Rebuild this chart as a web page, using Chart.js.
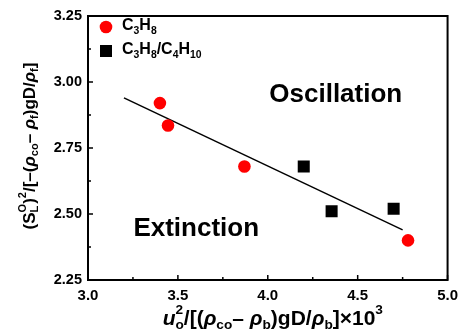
<!DOCTYPE html>
<html>
<head>
<meta charset="utf-8">
<script src="https://cdn.jsdelivr.net/npm/chart.js@4.4.1/dist/chart.umd.min.js"></script>
<style>
  body { margin: 0; background: #fff; }
  canvas { display: block; }
</style>
</head>
<body>
<canvas id="chart" width="465" height="336"></canvas>
<script>
// values
const c3h8X = [3.40, 3.445, 3.87, 4.78];
const c3h8Y = [2.92, 2.835, 2.68, 2.40];
const mixX = [4.20, 4.355, 4.70];
const mixY = [2.68, 2.51, 2.52];
const fitX = [3.20, 4.75];
const fitY = [2.94, 2.44];
const xTickVals = [3.0, 3.25, 3.5, 3.75, 4.0, 4.25, 4.5, 4.75, 5.0];
const yTickVals = [2.25, 2.375, 2.5, 2.625, 2.75, 2.875, 3.0, 3.125, 3.25];

const FONT = '"Liberation Sans", Arial, sans-serif';

function pts(xs, ys) {
    return xs.map((x, i) => ({ x: x, y: ys[i] }));
}

// text with sub / superscripts, drawn centred on x
function richText(ctx, segs, x, y, size) {
    const run = (draw, x0) => {
        let cx = x0, start = x0, prevEnd = x0;
        segs.forEach(s => {
            const sz = s.m ? size * 0.65 : size;
            ctx.font = (s.it ? 'italic ' : '') + 'bold ' + sz + 'px ' + FONT;
            if (s.over) cx = start;
            const w = ctx.measureText(s.t).width;
            let dy = 0;
            if (s.m === 'sub') dy = size * 0.32;
            if (s.m === 'sup') dy = -size * 0.4;
            if (draw) ctx.fillText(s.t, cx, y + dy);
            start = cx;
            cx = cx + w;
            if (s.over) cx = Math.max(cx, prevEnd);
            prevEnd = cx;
        });
        return cx - x0;
    };
    ctx.save();
    ctx.textAlign = 'left';
    ctx.textBaseline = 'middle';
    ctx.fillStyle = '#000';
    const w = run(false, 0);
    run(true, x - w / 2);
    ctx.restore();
}

const yTitle = [
    { t: '(' }, { t: 'S' }, { t: 'L', m: 'sub' }, { t: 'O', m: 'sup', over: true },
    { t: ')' }, { t: '2', m: 'sup' }, { t: '/[–(' }, { t: 'ρ', it: true }, { t: 'co', m: 'sub' },
    { t: '– ' }, { t: 'ρ', it: true }, { t: 'f', m: 'sub' }, { t: ')gD/' },
    { t: 'ρ', it: true }, { t: 'f', m: 'sub' }, { t: ']' }
];
const xTitle = [
    { t: 'u', it: true }, { t: 'o', m: 'sub' }, { t: '2', m: 'sup', over: true },
    { t: '/[(' }, { t: 'ρ', it: true }, { t: 'co', m: 'sub' }, { t: '– ' },
    { t: 'ρ', it: true }, { t: 'b', m: 'sub' }, { t: ')gD/' }, { t: 'ρ', it: true },
    { t: 'b', m: 'sub' }, { t: ']×10' }, { t: '3', m: 'sup' }
];
const leg1 = [{ t: 'C' }, { t: '3', m: 'sub' }, { t: 'H' }, { t: '8', m: 'sub' }];
const leg2 = [{ t: 'C' }, { t: '3', m: 'sub' }, { t: 'H' }, { t: '8', m: 'sub' }, { t: '/C' },
    { t: '4', m: 'sub' }, { t: 'H' }, { t: '10', m: 'sub' }];

const decor = {
    id: 'decor',
    afterDraw(chart) {
        const ctx = chart.ctx;
        const a = chart.chartArea;
        const xs = chart.scales.x, ys = chart.scales.y;
        ctx.save();
        ctx.strokeStyle = '#000';
        ctx.lineWidth = 1.5;
        ctx.beginPath();
        xTickVals.forEach((v, i) => {
            const px = xs.getPixelForValue(v);
            ctx.moveTo(px, a.bottom);
            ctx.lineTo(px, a.bottom - (i % 2 ? 3 : 5));
        });
        yTickVals.forEach((v, i) => {
            const py = ys.getPixelForValue(v);
            ctx.moveTo(a.left, py);
            ctx.lineTo(a.left + (i % 2 ? 3 : 5), py);
        });
        ctx.stroke();
        ctx.lineWidth = 2;
        ctx.strokeRect(a.left, a.top, a.right - a.left, a.bottom - a.top);

        // region labels
        ctx.fillStyle = '#000';
        ctx.textAlign = 'center';
        ctx.textBaseline = 'middle';
        ctx.font = 'bold 26px ' + FONT;
        ctx.fillText('Oscillation', xs.getPixelForValue(4.378), ys.getPixelForValue(2.951));
        ctx.fillText('Extinction', xs.getPixelForValue(3.602), ys.getPixelForValue(2.443));

        // legend markers
        ctx.fillStyle = '#ff0000';
        ctx.beginPath();
        ctx.arc(106, 27, 6.3, 0, Math.PI * 2);
        ctx.fill();
        ctx.fillStyle = '#000';
        ctx.fillRect(100, 45, 12, 12);
        ctx.restore();

        // legend text, left aligned at x = 122
        const lsz = 16;
        [[leg1, 26], [leg2, 50]].forEach(([segs, y]) => {
            ctx.save();
            let w = 0;
            segs.forEach(s => {
                ctx.font = 'bold ' + (s.m ? lsz * 0.65 : lsz) + 'px ' + FONT;
                w += ctx.measureText(s.t).width;
            });
            ctx.restore();
            richText(ctx, segs, 122 + w / 2, y, lsz);
        });

        // axis titles
        richText(ctx, xTitle, (a.left + a.right) / 2 + 5, 319, 21);
        ctx.save();
        ctx.translate(30, (a.top + a.bottom) / 2 - 2);
        ctx.rotate(-Math.PI / 2);
        richText(ctx, yTitle, 0, 0, 17);
        ctx.restore();
    }
};

new Chart(document.getElementById('chart'), {
    type: 'scatter',
    data: {
        datasets: [{
            label: 'C3H8',
            data: pts(c3h8X, c3h8Y),
            pointStyle: 'circle',
            pointRadius: 6.3,
            backgroundColor: '#ff0000',
            borderWidth: 0,
            order: 1
        }, {
            label: 'C3H8/C4H10',
            data: pts(mixX, mixY),
            pointStyle: 'rect',
            pointRadius: 8.5,
            backgroundColor: '#000',
            borderWidth: 0,
            order: 1
        }, {
            type: 'line',
            label: 'fit',
            data: pts(fitX, fitY),
            borderColor: '#000',
            borderWidth: 1.5,
            pointRadius: 0,
            fill: false,
            order: 2
        }]
    },
    options: {
        responsive: false,
        animation: false,
        layout: { padding: { top: 16, right: 16, left: 0, bottom: 0 } },
        plugins: { legend: { display: false }, tooltip: { enabled: false } },
        scales: {
            x: {
                type: 'linear',
                min: 3, max: 5,
                grid: { display: false, drawTicks: false },
                border: { display: false },
                ticks: {
                    stepSize: 0.5,
                    padding: 7,
                    color: '#000',
                    font: { family: FONT, size: 15, weight: 'bold' },
                    callback: v => v.toFixed(1)
                },
                afterFit(s) { s.height = 56; }
            },
            y: {
                min: 2.25, max: 3.25,
                grid: { display: false, drawTicks: false },
                border: { display: false },
                ticks: {
                    stepSize: 0.25,
                    padding: 6,
                    color: '#000',
                    font: { family: FONT, size: 14.5, weight: 'bold' },
                    callback: v => v.toFixed(2)
                },
                afterFit(s) { s.width = 88; }
            }
        }
    },
    plugins: [decor]
});
</script>
</body>
</html>
